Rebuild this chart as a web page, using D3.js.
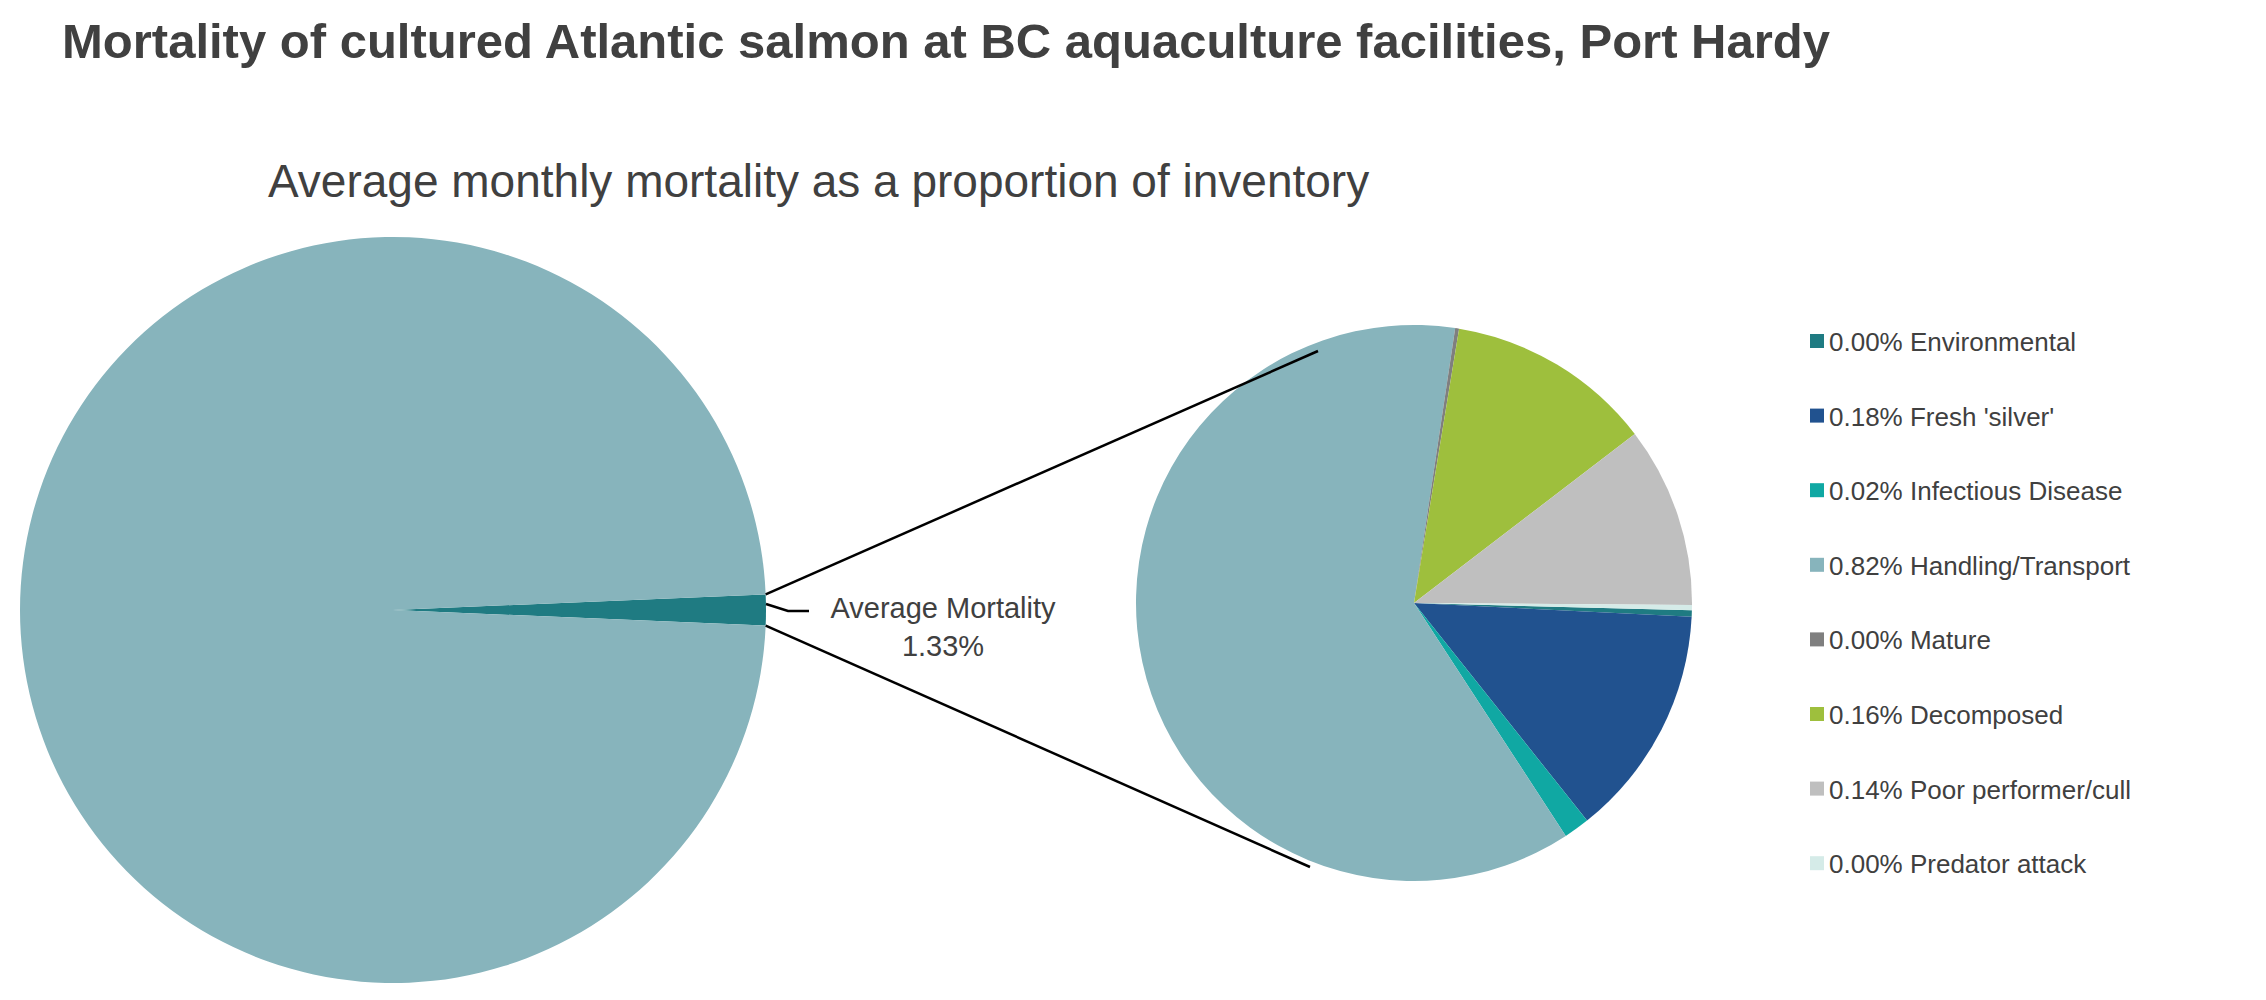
<!DOCTYPE html><html><head><meta charset="utf-8"><script src="https://d3js.org/d3.v7.min.js"></script>
<style>body{margin:0;background:#fff}text{font-family:"Liberation Sans",Arial,sans-serif;fill:#404040}</style></head><body>
<svg id="c" width="2266" height="1000"></svg>
<script>
const categories=["Environmental","Fresh 'silver'","Infectious Disease","Handling/Transport","Mature","Decomposed","Poor performer/cull","Predator attack"];
const values=[0.005,0.18,0.02,0.82,0.003,0.16,0.14,0.004];
const labels=["0.00%","0.18%","0.02%","0.82%","0.00%","0.16%","0.14%","0.00%"];
const colors=["#1f7b82","#21528f","#10a8a3","#87b4bc","#7f7f7f","#9ebf3d","#bfbfbf","#d5ebe8"];
const overview=[1.33,98.67];
const svg=d3.select("#c");
svg.append("text").attr("x",62).attr("y",58).attr("font-size",49).attr("font-weight","bold").text("Mortality of cultured Atlantic salmon at BC aquaculture facilities, Port Hardy");
svg.append("text").attr("x",268).attr("y",197).attr("font-size",46).text("Average monthly mortality as a proportion of inventory");
// left pie
const L={x:393,y:610,r:373};
const half=Math.PI*overview[0]/100;
const lp=d3.pie().sort(null).startAngle(Math.PI/2-half).endAngle(Math.PI/2-half+2*Math.PI)(overview);
svg.append("g").attr("transform",`translate(${L.x},${L.y})`).selectAll("path").data(lp).join("path")
 .attr("d",d3.arc().innerRadius(0).outerRadius(L.r)).attr("fill",(d,i)=>i?"#87b4bc":"#1f7b82");
// right pie
const R={x:1414,y:603,r:278};
const st=91.5*Math.PI/180;
const rp=d3.pie().sort(null).startAngle(st).endAngle(st+2*Math.PI)(values);
svg.append("g").attr("transform",`translate(${R.x},${R.y})`).selectAll("path").data(rp).join("path")
 .attr("d",d3.arc().innerRadius(0).outerRadius(R.r)).attr("fill",(d,i)=>colors[i]);
// connectors
const ex=L.x+L.r*Math.cos(half), ey1=L.y-L.r*Math.sin(half), ey2=L.y+L.r*Math.sin(half);
svg.append("line").attr("x1",ex).attr("y1",ey1).attr("x2",1318).attr("y2",351).attr("stroke","#000").attr("stroke-width",2.5);
svg.append("line").attr("x1",ex).attr("y1",ey2).attr("x2",1310).attr("y2",867).attr("stroke","#000").attr("stroke-width",2.5);
svg.append("polyline").attr("points",`${L.x+L.r},604 788,611 809,611`).attr("fill","none").attr("stroke","#000").attr("stroke-width",2.5);
svg.append("text").attr("x",943).attr("y",618).attr("text-anchor","middle").attr("font-size",29).text("Average Mortality");
svg.append("text").attr("x",943).attr("y",656).attr("text-anchor","middle").attr("font-size",29).text(labels.length?"1.33%":"");
// legend
const lg=svg.append("g").selectAll("g").data(categories).join("g").attr("transform",(d,i)=>`translate(1810,${342+i*74.6})`);
lg.append("rect").attr("x",0).attr("y",-8).attr("width",14).attr("height",14).attr("fill",(d,i)=>colors[i]);
lg.append("text").attr("x",19).attr("y",9).attr("font-size",26).text((d,i)=>labels[i]+" "+d);
</script></body></html>
